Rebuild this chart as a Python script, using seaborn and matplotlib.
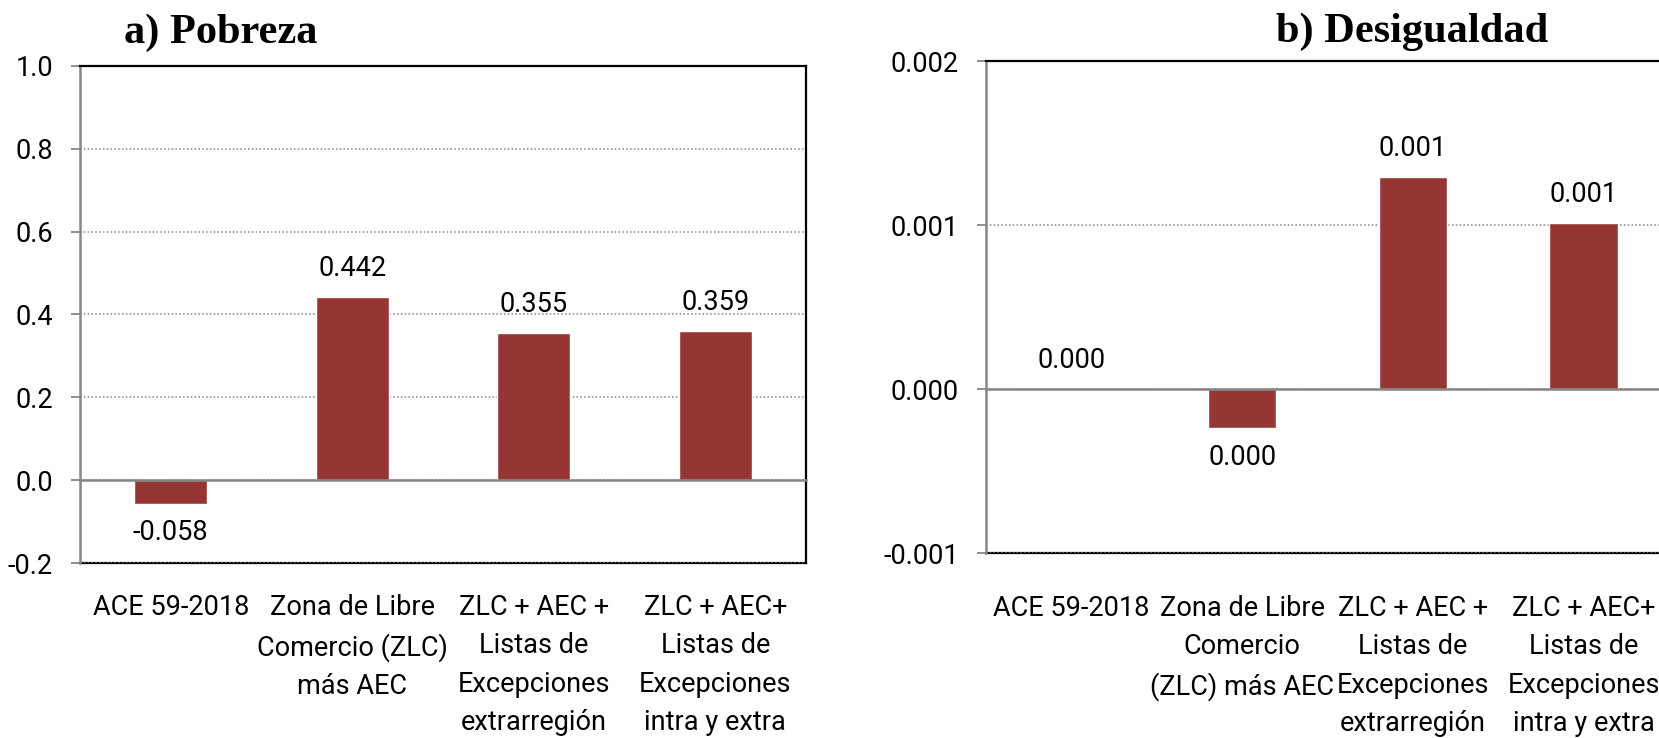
import numpy as np
import pandas as pd
import seaborn as sns
import matplotlib
matplotlib.use("Agg")
from matplotlib import pyplot as plt
from matplotlib import font_manager
from matplotlib.ticker import FormatStrFormatter

# data
categories = ["ACE 59-2018", "ZLC + AEC", "ZLC + AEC + LE extra", "ZLC + AEC + LE intra y extra"]
labels_a = ["ACE 59-2018", "Zona de Libre\nComercio (ZLC)\nmás AEC",
            "ZLC + AEC +\nListas de\nExcepciones\nextrarregión",
            "ZLC + AEC+\nListas de\nExcepciones\nintra y extra"]
labels_b = ["ACE 59-2018", "Zona de Libre\nComercio\n(ZLC) más AEC",
            "ZLC + AEC +\nListas de\nExcepciones\nextrarregión",
            "ZLC + AEC+\nListas de\nExcepciones\nintra y extra"]
pobreza = [-0.058, 0.442, 0.355, 0.359]
desigualdad = [0.0, -0.00024, 0.00129, 0.00101]
yticks_a = [-0.2, 0.0, 0.2, 0.4, 0.6, 0.8, 1.0]
yticks_b = [-0.001, 0.0, 0.001, 0.002]

BAR = "#963634"
GREY = "#868686"
FS = 19.5

sns.set_style("white")
names = {f.name for f in font_manager.fontManager.ttflist}
sans = next(n for n in ["Liberation Sans Narrow", "Roboto", "DejaVu Sans"] if n in names)
plt.rcParams["font.family"] = [sans, "DejaVu Sans"]
plt.rcParams["text.color"] = "black"
plt.rcParams["xtick.labelcolor"] = "black"
plt.rcParams["ytick.labelcolor"] = "black"

W, H = 1659, 738
fig = plt.figure(figsize=(W / 100, H / 100), dpi=100)
fig.patch.set_facecolor("white")


def px(x0, y0, x1, y1):
    # pixel box -> figure fraction
    return [x0 / W, 1 - y1 / H, (x1 - x0) / W, (y1 - y0) / H]


def fmt_label(v):
    s = f"{v:.3f}"
    if float(s) == 0:
        s = "0.000"
    return s


def panel(ax, values, ticklabels, yticks, nd, label_pad):
    df = pd.DataFrame({"cat": categories, "val": values})
    sns.barplot(data=df, x="cat", y="val", color=BAR, width=0.4, saturation=1,
                ax=ax, zorder=2)
    ax.set_xlim(-0.5, 3.5)
    ax.set_ylim(yticks[0], yticks[-1])
    ax.set_yticks(yticks)
    ax.yaxis.set_major_formatter(FormatStrFormatter(f"%.{nd}f"))
    ax.set_xlabel("")
    ax.set_ylabel("")

    # dotted gridlines
    ax.yaxis.grid(True, color=GREY, linestyle=(0, (1, 1.5)), linewidth=1.1, zorder=0)
    ax.set_axisbelow(True)

    # zero line = category axis with ticks at category boundaries
    ax.spines["bottom"].set_position(("data", 0))
    ax.spines["bottom"].set_color(GREY)
    ax.spines["bottom"].set_linewidth(1.8)
    ax.spines["bottom"].set_zorder(3)
    ax.set_xticks([0.5, 1.5, 2.5])
    ax.tick_params(axis="x", direction="out", length=6.5, width=1.3, color=GREY,
                   labelbottom=False)

    ax.spines["left"].set_color(GREY)
    ax.spines["left"].set_linewidth(1.8)
    ax.tick_params(axis="y", direction="out", length=6.5, width=1.3, color=GREY,
                   labelsize=FS, labelcolor="black", pad=13, left=True)
    for s in ["top", "right"]:
        ax.spines[s].set_color("black")
        ax.spines[s].set_linewidth(1.6)

    # plot area border at the bottom carries the category labels
    sec = ax.secondary_xaxis(0.0)
    sec.set_xticks(range(len(categories)), labels=ticklabels)
    sec.tick_params(length=0, pad=label_pad, labelsize=FS, labelcolor="black")
    for t in sec.get_xticklabels():
        t.set_linespacing(1.55)
        t.set_multialignment("center")
    sec.spines["bottom"].set_color("black")
    sec.spines["bottom"].set_linewidth(1.6)

    ax.bar_label(ax.containers[0], labels=[fmt_label(v) for v in values],
                 padding=11, fontsize=FS, color="black")


ax_a = fig.add_axes(px(80, 66, 806, 563))
panel(ax_a, pobreza, labels_a, yticks_a, 1, 22)

ax_b = fig.add_axes(px(986, 61, 1669, 553))
panel(ax_b, desigualdad, labels_b, yticks_b, 3, 30)
ax_b.spines["right"].set_visible(False)

fig.text(221 / W, 1 - 43 / H, "a) Pobreza", ha="center", va="baseline",
         fontsize=30.5, fontweight="bold", family="Liberation Serif", color="black")
fig.text(1412 / W, 1 - 42 / H, "b) Desigualdad", ha="center", va="baseline",
         fontsize=30.5, fontweight="bold", family="Liberation Serif", color="black")

fig.savefig("out.png", dpi=100)
